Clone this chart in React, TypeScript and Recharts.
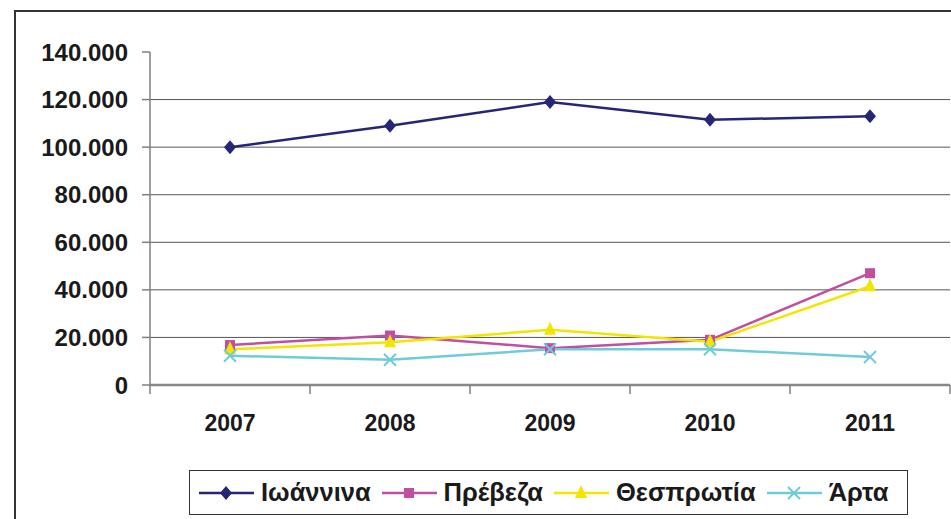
import React from "react";
import { CartesianGrid, Line, LineChart, XAxis, YAxis } from "recharts";

const years = ["2007", "2008", "2009", "2010", "2011"];
const ioannina = [100000, 109000, 119000, 111500, 113000];
const preveza = [16800, 20800, 15500, 19000, 47000];
const thesprotia = [15000, 18000, 23200, 18200, 41500];
const arta = [12300, 10600, 15000, 15000, 11800];
const yTicks = [0, 20000, 40000, 60000, 80000, 100000, 120000, 140000];
const gridValues = [20000, 40000, 60000, 80000, 100000, 120000];

const series = [
  { key: "ioannina", name: "Ιωάννινα", values: ioannina, color: "#262676", shape: "diamond" },
  { key: "preveza", name: "Πρέβεζα", values: preveza, color: "#C04FA2", shape: "square" },
  { key: "thesprotia", name: "Θεσπρωτία", values: thesprotia, color: "#F2E500", shape: "triangle" },
  { key: "arta", name: "Άρτα", values: arta, color: "#6FCBD9", shape: "cross" },
];

const data = years.map((year, i) => {
  const row: Record<string, number | string> = { x: i + 0.5, year };
  series.forEach((s) => (row[s.key] = s.values[i]));
  return row;
});

// integer ticks = boundary tick marks, half ticks = year labels
const xTicks = [0, 0.5, 1, 1.5, 2, 2.5, 3, 3.5, 4, 4.5, 5];
const font = "'Liberation Sans', Arial, sans-serif";

function Marker({ cx, cy, shape, color }: { cx: number; cy: number; shape: string; color: string }) {
  if (cx == null || cy == null) return null;
  if (shape === "diamond")
    return <polygon points={`${cx},${cy - 7} ${cx + 6},${cy} ${cx},${cy + 7} ${cx - 6},${cy}`} fill={color} />;
  if (shape === "square") return <rect x={cx - 5} y={cy - 5} width={10} height={10} fill={color} />;
  if (shape === "triangle")
    return <polygon points={`${cx},${cy - 8} ${cx + 6},${cy + 5} ${cx - 6},${cy + 5}`} fill={color} />;
  return (
    <g stroke={color} strokeWidth={2}>
      <line x1={cx - 6} y1={cy - 6} x2={cx + 6} y2={cy + 6} />
      <line x1={cx - 6} y1={cy + 6} x2={cx + 6} y2={cy - 6} />
    </g>
  );
}

function XTick(props: any) {
  const { x, y, payload } = props;
  const v = payload.value;
  if (Number.isInteger(v)) {
    return <line x1={x} y1={y} x2={x} y2={y + 9} stroke="#808080" strokeWidth={1.5} />;
  }
  return (
    <text x={x} y={y + 46} textAnchor="middle" fontFamily={font} fontWeight="bold" fontSize={23} fill="#1a1a1a">
      {years[Math.floor(v)]}
    </text>
  );
}

const fmt = (v: number) => (v === 0 ? "0" : v.toLocaleString("de-DE"));

function LegendBox() {
  return (
    <div
      style={{
        position: "absolute",
        left: 189,
        top: 470,
        width: 719,
        height: 45,
        boxSizing: "border-box",
        border: "1.5px solid #333",
        background: "#fff",
        display: "flex",
        alignItems: "center",
        paddingLeft: 9,
        fontFamily: font,
        fontWeight: "bold",
        fontSize: 25.5,
        color: "#1a1a1a",
      }}
    >
      {series.map((s) => (
        <div key={s.key} style={{ display: "flex", alignItems: "center", marginRight: 11 }}>
          <svg width={55} height={20} style={{ marginRight: 7 }}>
            <line x1={0} y1={10} x2={55} y2={10} stroke={s.color} strokeWidth={2.5} />
            <Marker cx={27} cy={10} shape={s.shape} color={s.color} />
          </svg>
          <span>{s.name}</span>
        </div>
      ))}
    </div>
  );
}

export default function App() {
  return (
    <div style={{ position: "absolute", left: 0, top: 0, width: 951, height: 519, background: "#fff", overflow: "hidden" }}>
      <div
        style={{
          position: "absolute",
          left: 14,
          top: 10,
          width: 960,
          height: 540,
          borderTop: "2px solid #333",
          borderLeft: "2px solid #333",
        }}
      />
      <div style={{ position: "absolute", left: 0, top: 0 }}>
        <LineChart width={951} height={519} data={data} margin={{ top: 52, right: 1, left: 0, bottom: 94 }}>
          <CartesianGrid horizontalValues={gridValues} vertical={false} stroke="#555" strokeWidth={1} />
          <XAxis
            dataKey="x"
            type="number"
            domain={[0, 5]}
            ticks={xTicks}
            interval={0}
            height={40}
            tickSize={0}
            tickMargin={0}
            tick={<XTick />}
            tickLine={false}
            axisLine={{ stroke: "#888", strokeWidth: 2.5 }}
          />
          <YAxis
            width={150}
            domain={[0, 140000]}
            ticks={yTicks}
            interval={0}
            tickFormatter={fmt}
            tickSize={8}
            tickMargin={14}
            tickLine={{ stroke: "#808080", strokeWidth: 1.5 }}
            axisLine={{ stroke: "#808080", strokeWidth: 1.5 }}
            tick={{ fontFamily: font, fontWeight: "bold", fontSize: 24, fill: "#1a1a1a" }}
          />
          {series.map((s) => (
            <Line
              key={s.key}
              dataKey={s.key}
              name={s.name}
              stroke={s.color}
              strokeWidth={2.5}
              isAnimationActive={false}
              dot={(p: any) => <Marker key={p.index} cx={p.cx} cy={p.cy} shape={s.shape} color={s.color} />}
            />
          ))}
        </LineChart>
      </div>
      <LegendBox />
    </div>
  );
}
